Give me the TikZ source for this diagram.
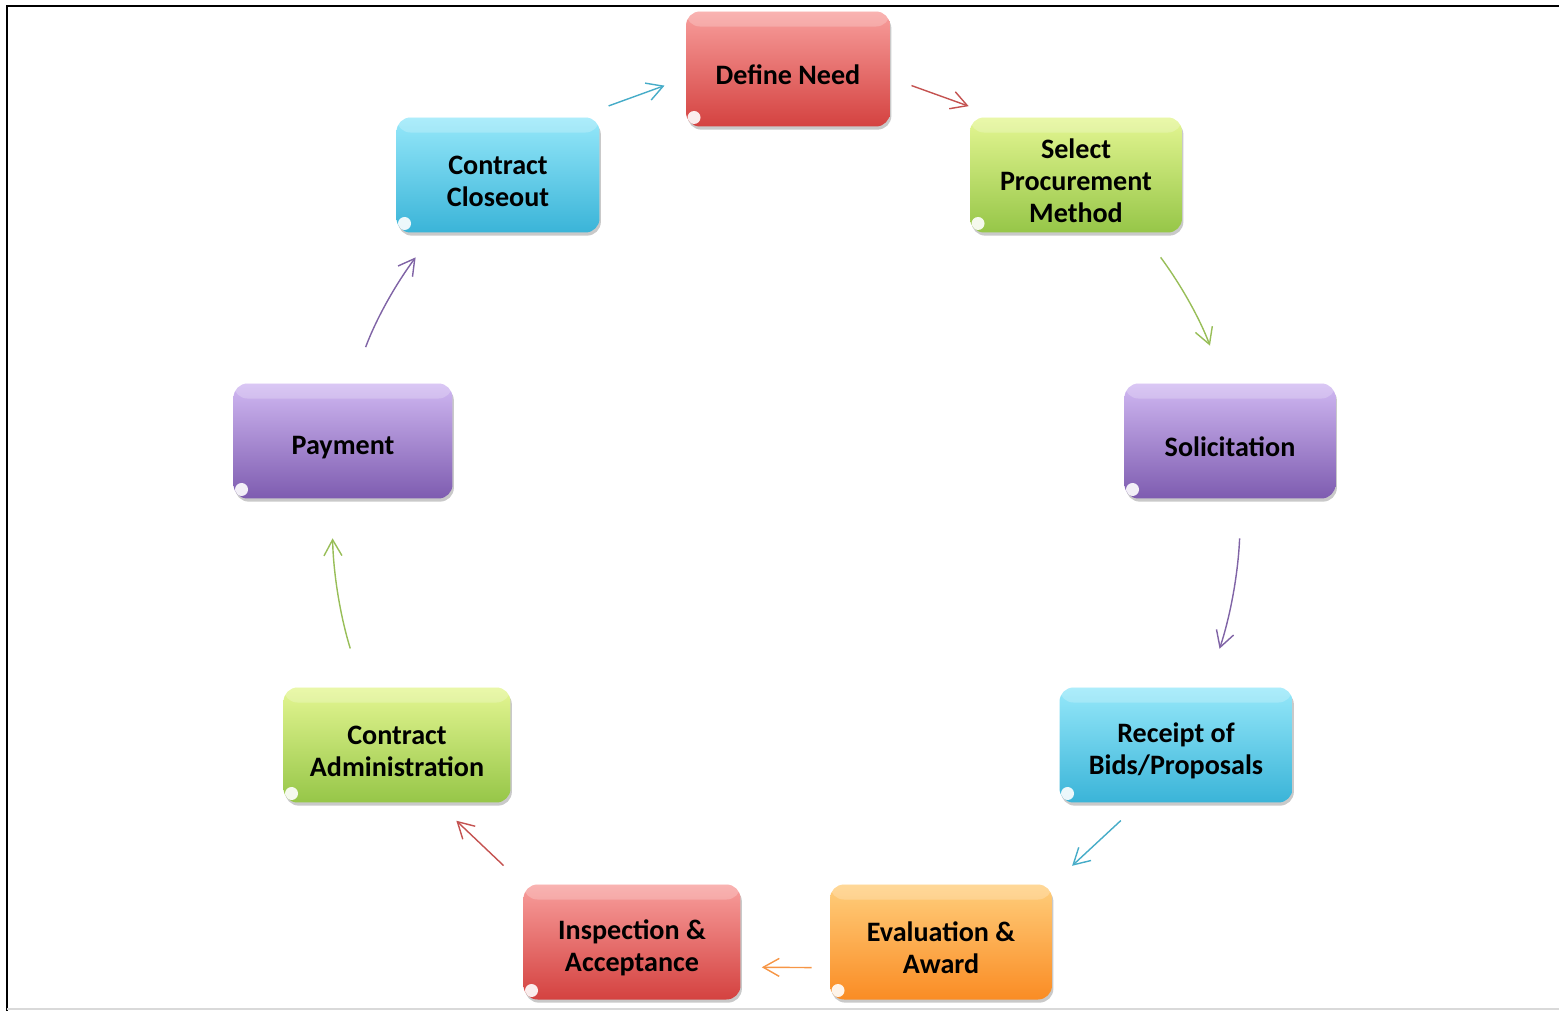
\documentclass[tikz,border=0pt]{standalone}
\usepackage{fontspec}
\setmainfont{Carlito}
\usetikzlibrary{arrows.meta,shadows}
\definecolor{stageRedTop}{RGB}{248,158,156}
\definecolor{stageRedBot}{RGB}{212,66,64}
\definecolor{stageGreenTop}{RGB}{228,246,146}
\definecolor{stageGreenBot}{RGB}{150,198,72}
\definecolor{stagePurpleTop}{RGB}{208,184,242}
\definecolor{stagePurpleBot}{RGB}{126,92,176}
\definecolor{stageCyanTop}{RGB}{150,232,250}
\definecolor{stageCyanBot}{RGB}{58,180,216}
\definecolor{stageOrangeTop}{RGB}{255,206,124}
\definecolor{stageOrangeBot}{RGB}{250,140,36}
\definecolor{flowRed}{RGB}{196,82,80}
\definecolor{flowGreen}{RGB}{152,190,88}
\definecolor{flowPurple}{RGB}{128,100,166}
\definecolor{flowCyan}{RGB}{70,172,200}
\definecolor{flowOrange}{RGB}{246,150,70}
\newcommand\stagegap{\rule{0pt}{17.5pt}}

\begin{document}
\begin{tikzpicture}[x=0.02cm, y=-0.02cm]
                    \tikzstyle{stage} = [rounded corners=0.28cm, minimum height=2.3cm, align=center, inner sep=2pt,
                        font=\fontsize{16}{18.2}\selectfont\bfseries,
                        drop shadow={shadow xshift=0.8pt, shadow yshift=-1.8pt, opacity=0.3, fill=black!70},
                        path picture={\fill[white, opacity=0.22] (path picture bounding box.north west) rectangle ([yshift=-0.3cm]path picture bounding box.north east);
                            \fill[white, opacity=0.9] ([xshift=0.16cm, yshift=0.18cm]path picture bounding box.south west) circle (0.13cm);}]
                    \tikzstyle{redstage} = [stage, top color=stageRedTop, bottom color=stageRedBot]
                    \tikzstyle{greenstage} = [stage, top color=stageGreenTop, bottom color=stageGreenBot]
                    \tikzstyle{purplestage} = [stage, top color=stagePurpleTop, bottom color=stagePurpleBot]
                    \tikzstyle{cyanstage} = [stage, top color=stageCyanTop, bottom color=stageCyanBot]
                    \tikzstyle{orangestage} = [stage, top color=stageOrangeTop, bottom color=stageOrangeBot]
                    \tikzstyle{flow} = [-{Straight Barb[length=0.32cm, width=0.36cm]}, line width=0.8pt]
                    \useasboundingbox (0,0) rectangle (1559,1011);
                    \draw[line width=1.1pt] (7,1011) -- (7,6) -- (1559,6);
                    \draw[black!15, line width=1pt] (7,1009) -- (1559,1009);
                    \node[redstage, minimum width=4.08cm] (need) at (788,69) {\stagegap Define Need};
                    \node[greenstage, minimum width=4.24cm] (method) at (1076,175) {\stagegap Select\\Procurement\\Method};
                    \node[purplestage, minimum width=4.22cm] (solicit) at (1230,441) {\stagegap Solicitation};
                    \node[cyanstage, minimum width=4.66cm] (receipt) at (1176,745) {\stagegap Receipt of\\Bids/Proposals};
                    \node[orangestage, minimum width=4.44cm] (award) at (941,942) {\stagegap Evaluation \&\\Award};
                    \node[redstage, minimum width=4.34cm] (inspect) at (632,942) {\stagegap Inspection \&\\Acceptance};
                    \node[greenstage, minimum width=4.54cm] (admin) at (397,745) {\stagegap Contract\\Administration};
                    \node[purplestage, minimum width=4.38cm] (payment) at (343,441) {\stagegap Payment};
                    \node[cyanstage, minimum width=4.06cm] (closeout) at (498,175) {\stagegap Contract\\Closeout};
                    \draw[flow, flowCyan, shorten <=0.66cm, shorten >=0.45cm] (closeout.36) -- (need.185);
                    \draw[flow, flowRed, shorten <=0.45cm, shorten >=0.65cm] (need.355) -- (method.143);
                    \draw[flow, flowGreen, shorten <=0.61cm, shorten >=0.8cm] (method.319) to[bend left=8] (solicit.96);
                    \draw[flow, flowPurple, shorten <=0.79cm, shorten >=0.81cm] (solicit.281) to[bend left=8] (receipt.62);
                    \draw[flow, flowCyan, shorten <=0.52cm, shorten >=0.54cm] (receipt.238) -- (award.north east);
                    \draw[flow, flowOrange, shorten <=0.36cm, shorten >=0.42cm] (award.193) -- (inspect.347);
                    \draw[flow, flowRed, shorten <=0.54cm, shorten >=0.52cm] (inspect.north west) -- (admin.305);
                    \draw[flow, flowGreen, shorten <=0.81cm, shorten >=0.79cm] (admin.121) to[bend left=8] (payment.259);
                    \draw[flow, flowPurple, shorten <=0.77cm, shorten >=0.61cm] (payment.81) to[bend left=8] (closeout.222);
                \end{tikzpicture}
\end{document}
